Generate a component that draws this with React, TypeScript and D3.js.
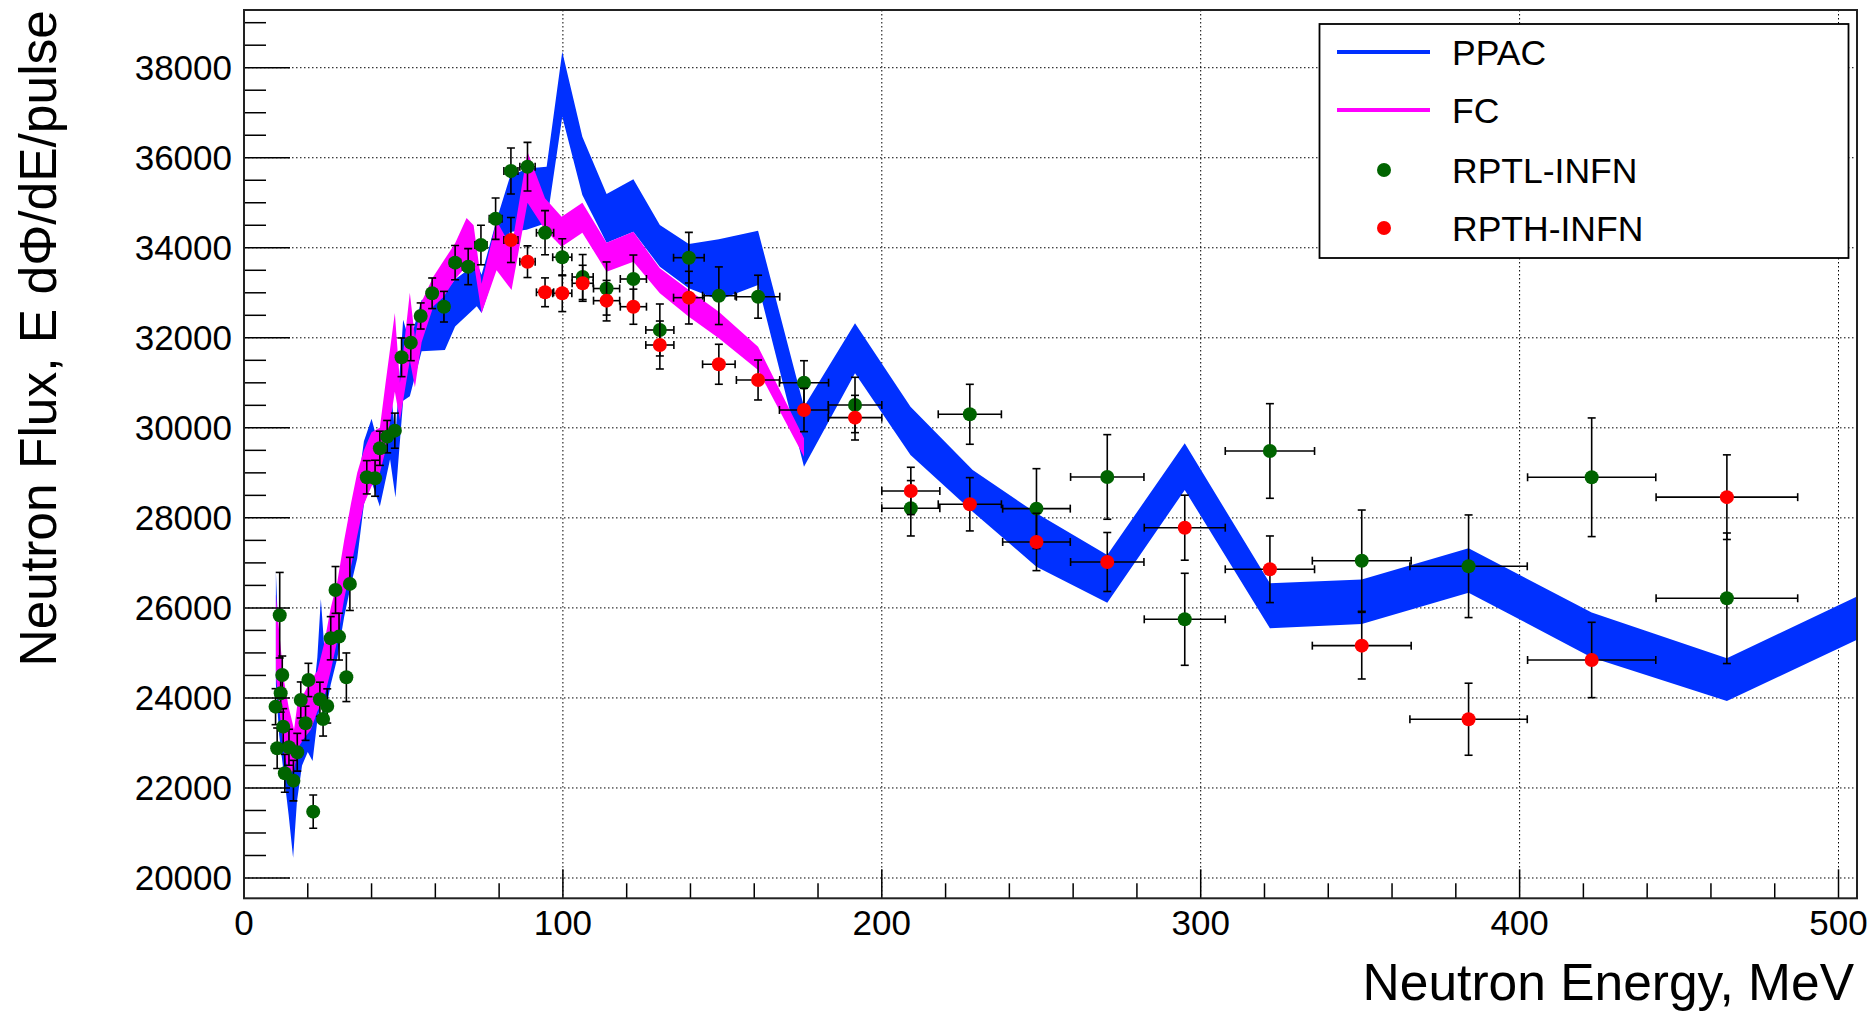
import React from "react";
import * as d3 from "d3";

// ---------- data ----------
const ppacE = [10.0, 11.0, 12.5, 14.0, 15.4, 16.6, 18.2, 20.0, 21.5, 23.0, 24.1, 25.3, 27.2, 29.3, 31.4, 33.5, 35.5, 37.6, 40.0, 42.6, 45.8, 47.5, 49.9, 52.0, 55.7, 63.0, 66.2, 73.0, 74.5, 79.2, 83.4, 88.6, 94.9, 99.8, 106.1, 113.7, 122.1, 130.4, 139.5, 148.9, 161.2, 175.6, 191.6, 209.0, 228.5, 248.5, 270.7, 295.0, 321.7, 350.5, 384.0, 422.6, 465.0, 512.0];
const ppacLo = [24300, 23200, 22300, 21400, 20450, 21700, 22500, 22800, 22600, 23500, 23900, 23600, 24300, 24900, 25800, 26500, 27100, 28300, 28800, 28250, 29300, 28450, 30600, 30700, 31700, 31730, 32250, 32700, 32550, 33580, 34350, 34400, 34550, 36912, 35172, 34113, 34357, 33580, 33100, 32840, 33173, 29137, 31211, 29397, 28138, 26916, 26116, 28620, 25547, 25640, 26339, 24900, 23933, 25500];
const ppacHi = [26800, 25000, 24300, 23300, 22600, 23500, 24000, 24100, 23900, 24900, 26200, 25000, 25800, 26300, 27300, 28000, 28600, 29700, 30200, 29500, 31000, 29800, 32400, 31900, 32840, 33000, 33300, 33650, 33400, 34617, 35580, 35760, 35800, 38355, 36468, 35194, 35521, 34506, 34084, 34188, 34380, 30470, 32322, 30470, 29064, 28102, 27176, 29657, 26547, 26630, 27325, 25900, 24881, 26460];

const fcE = [10.0, 11.0, 12.5, 14.0, 15.7, 17.0, 18.8, 21.0, 23.0, 25.1, 27.2, 29.3, 31.4, 33.5, 35.5, 37.6, 40.0, 42.6, 44.4, 47.3, 48.9, 52.0, 53.6, 55.7, 59.4, 62.5, 66.2, 69.8, 72.0, 74.5, 79.2, 83.9, 88.9, 94.4, 99.6, 106.1, 113.7, 122.1, 130.4, 139.5, 148.9, 161.2, 175.6];
const fcLo = [24500, 23800, 22800, 22300, 22400, 22900, 23100, 23300, 23700, 24000, 24600, 25300, 26200, 26900, 27600, 28300, 28700, 29000, 29500, 30800, 30170, 31500, 30900, 31900, 32700, 32900, 33300, 33600, 33700, 32544, 33500, 33062, 35000, 34400, 34024, 34335, 33469, 33691, 32989, 32470, 31989, 31285, 29360];
const fcHi = [26300, 25500, 24400, 23800, 23300, 24000, 24100, 24400, 24600, 25200, 26000, 26600, 27500, 28300, 29000, 29500, 29900, 30000, 31000, 32550, 31000, 33000, 32000, 32800, 33360, 33700, 34100, 34660, 34500, 33200, 34600, 34000, 36135, 35100, 34690, 35001, 34113, 34357, 33543, 33062, 32580, 31803, 29768];

const rptlE = [9.9, 10.4, 11.2, 11.5, 12.0, 12.3, 12.8, 14.1, 15.5, 16.7, 17.8, 19.3, 20.2, 21.7, 23.8, 24.8, 26.1, 27.2, 28.7, 29.8, 32.1, 33.2, 38.5, 41.1, 42.6, 44.9, 47.3, 49.4, 52.3, 55.4, 59.0, 62.7, 66.2, 70.3, 74.3, 78.9, 83.7, 88.9, 94.4, 99.8, 106.2, 113.7, 122.1, 130.4, 139.5, 148.9, 161.2, 175.6, 191.6, 209.1, 227.6, 248.5, 270.7, 295.0, 321.7, 350.5, 384.0, 422.6, 465.0];
const rptlY = [23806, 22882, 25838, 24104, 24511, 23362, 22326, 22904, 22163, 22793, 23955, 23437, 24399, 21474, 23970, 23533, 23822, 25326, 26399, 25362, 24459, 26533, 28902, 28880, 29546, 29804, 29937, 31567, 31892, 32485, 32989, 32691, 33669, 33580, 34062, 34646, 35705, 35801, 34335, 33790, 33350, 33095, 33306, 32174, 33780, 32935, 32913, 31003, 30508, 28213, 30301, 28205, 28909, 25747, 29486, 27049, 26925, 28902, 26214];
const rptlEy = [400, 450, 950, 420, 420, 400, 420, 400, 450, 420, 400, 380, 370, 370, 380, 380, 380, 480, 520, 520, 540, 590, 370, 400, 380, 360, 390, 430, 400, 290, 340, 340, 380, 400, 440, 460, 510, 540, 490, 410, 500, 590, 533, 577, 562, 640, 477, 488, 615, 615, 666, 888, 940, 1022, 1051, 1125, 1140, 1318, 1450];
const rptlEx = [0.3, 0.3, 0.3, 0.3, 0.3, 0.3, 0.3, 0.4, 0.4, 0.4, 0.5, 0.5, 0.5, 0.6, 0.6, 0.6, 0.7, 0.7, 0.7, 0.8, 0.8, 0.9, 1.0, 1.1, 1.1, 1.2, 1.2, 1.3, 1.4, 1.4, 1.5, 1.6, 1.7, 1.8, 1.9, 2.0, 2.2, 2.4, 2.7, 3.0, 3.3, 4.1, 4.1, 4.4, 4.8, 5.1, 6.8, 7.7, 8.4, 9.1, 9.9, 10.6, 11.5, 12.7, 14.0, 15.5, 18.4, 20.1, 22.2];

const rpthE = [83.7, 88.9, 94.4, 99.8, 106.2, 113.7, 122.1, 130.4, 139.5, 148.9, 161.2, 175.6, 191.6, 209.1, 227.6, 248.5, 270.7, 295.0, 321.7, 350.5, 384.0, 422.6, 465.0];
const rpthY = [34173, 33691, 33011, 32989, 33211, 32825, 32691, 31840, 32892, 31412, 31063, 30397, 30226, 28598, 28302, 27465, 27020, 27782, 26858, 25161, 23527, 24843, 28460];
const rpthEy = [500, 352, 320, 407, 400, 450, 390, 533, 585, 444, 444, 481, 496, 526, 592, 637, 655, 722, 740, 740, 800, 837, 940];
const rpthEx = [2.2, 2.4, 2.7, 3.0, 3.3, 4.1, 4.1, 4.4, 4.8, 5.1, 6.8, 7.7, 8.4, 9.1, 9.9, 10.6, 11.5, 12.7, 14.0, 15.5, 18.4, 20.1, 22.2];

const yTickValues = [20000, 22000, 24000, 26000, 28000, 30000, 32000, 34000, 36000, 38000];
const xTickValues = [0, 100, 200, 300, 400, 500];

const legendLabels = ["PPAC", "FC", "RPTL-INFN", "RPTH-INFN"];

// ---------- layout ----------
const W = 1872;
const H = 1011;
const L = 244, R = 1857, T = 10, B = 898.3;
const BLUE = "#0030ff";
const MAGENTA = "#ff00ff";
const GREEN = "#006400";
const RED = "#ff0000";
const FONT = "'Liberation Sans', Arial, Helvetica, sans-serif";

const x = d3.scaleLinear().domain([0, 505.8]).range([L, R]);
const y = d3.scaleLinear().domain([19549, 39282]).range([B, T]);

function band(E: number[], lo: number[], hi: number[]) {
  const pts = E.map((e, i) => ({ e, lo: lo[i], hi: hi[i] }));
  return d3
    .area<{ e: number; lo: number; hi: number }>()
    .x((d) => x(d.e))
    .y0((d) => y(d.lo))
    .y1((d) => y(d.hi))
    .curve(d3.curveLinear)(pts) as string;
}

function Points({ E, V, ey, ex, color }: { E: number[]; V: number[]; ey: number[]; ex: number[]; color: string }) {
  const cap = 4;
  return (
    <g>
      {E.map((e, i) => {
        const cx = x(e), cy = y(V[i]);
        const y1 = y(V[i] + ey[i]), y2 = y(V[i] - ey[i]);
        const x1 = x(e - ex[i]), x2 = x(e + ex[i]);
        return (
          <g key={i} stroke="#000" strokeWidth={1.6}>
            <line x1={cx} x2={cx} y1={y1} y2={y2} />
            <line x1={cx - cap} x2={cx + cap} y1={y1} y2={y1} />
            <line x1={cx - cap} x2={cx + cap} y1={y2} y2={y2} />
            <line x1={x1} x2={x2} y1={cy} y2={cy} />
            <line x1={x1} x2={x1} y1={cy - cap} y2={cy + cap} />
            <line x1={x2} x2={x2} y1={cy - cap} y2={cy + cap} />
          </g>
        );
      })}
      {E.map((e, i) => (
        <circle key={"m" + i} cx={x(e)} cy={y(V[i])} r={7} fill={color} />
      ))}
    </g>
  );
}

export default function App() {
  const yMinor = d3.range(20000, 39282, 500).filter((v) => v % 2000 !== 0);
  const xMinor = d3.range(0, 505.8, 20).filter((v) => v % 100 !== 0);
  const legendRows = [52, 110, 170, 228];
  return (
    <div style={{ position: "absolute", left: 0, top: 0, width: W, height: H, background: "#fff" }}>
      <svg width={W} height={H} viewBox={`0 0 ${W} ${H}`} style={{ display: "block" }}>
        <defs>
          <clipPath id="frame">
            <rect x={L} y={T} width={R - L} height={B - T} />
          </clipPath>
        </defs>
        <rect x={0} y={0} width={W} height={H} fill="#fff" />

        {/* grid */}
        <g stroke="#000" strokeWidth={1} strokeDasharray="1.5,2.5">
          {yTickValues.map((v) => (
            <line key={"gy" + v} x1={L} x2={R} y1={y(v)} y2={y(v)} />
          ))}
          {xTickValues.filter((v) => v > 0).map((v) => (
            <line key={"gx" + v} x1={x(v)} x2={x(v)} y1={T} y2={B} />
          ))}
        </g>

        {/* bands */}
        <g clipPath="url(#frame)">
          <path d={band(ppacE, ppacLo, ppacHi)} fill={BLUE} />
          <path d={band(fcE, fcLo, fcHi)} fill={MAGENTA} />
        </g>

        {/* data points */}
        <g clipPath="url(#frame)">
          <Points E={rptlE} V={rptlY} ey={rptlEy} ex={rptlEx} color={GREEN} />
          <Points E={rpthE} V={rpthY} ey={rpthEy} ex={rpthEx} color={RED} />
        </g>

        {/* ticks */}
        <g stroke="#000" strokeWidth={1.5}>
          {yTickValues.map((v) => (
            <line key={"ty" + v} x1={L} x2={L + 46} y1={y(v)} y2={y(v)} />
          ))}
          {yMinor.map((v) => (
            <line key={"tym" + v} x1={L} x2={L + 22} y1={y(v)} y2={y(v)} />
          ))}
          {xTickValues.map((v) => (
            <line key={"tx" + v} x1={x(v)} x2={x(v)} y1={B} y2={B - 29} />
          ))}
          {xMinor.map((v) => (
            <line key={"txm" + v} x1={x(v)} x2={x(v)} y1={B} y2={B - 15} />
          ))}
        </g>

        {/* frame */}
        <rect x={L} y={T} width={R - L} height={B - T} fill="none" stroke="#222" strokeWidth={2} />

        {/* tick labels */}
        <g fontFamily={FONT} fontSize={35} fill="#000">
          {yTickValues.map((v) => (
            <text key={"ly" + v} x={232} y={y(v) + 12.5} textAnchor="end">
              {v}
            </text>
          ))}
          {xTickValues.map((v) => (
            <text key={"lx" + v} x={x(v)} y={935} textAnchor="middle">
              {v}
            </text>
          ))}
        </g>

        {/* axis titles */}
        <text x={1854} y={1000} textAnchor="end" fontFamily={FONT} fontSize={51.5} fill="#000">
          Neutron Energy, MeV
        </text>
        <text
          transform="translate(56,10) rotate(-90)"
          textAnchor="end"
          fontFamily={FONT}
          fontSize={51.5}
          fill="#000"
        >
          Neutron Flux, E dΦ/dE/pulse
        </text>

        {/* legend */}
        <g>
          <rect x={1319.5} y={24} width={529} height={234} fill="#fff" stroke="#000" strokeWidth={1.8} />
          <line x1={1337} x2={1430} y1={legendRows[0]} y2={legendRows[0]} stroke={BLUE} strokeWidth={4} />
          <line x1={1337} x2={1430} y1={legendRows[1]} y2={legendRows[1]} stroke={MAGENTA} strokeWidth={4} />
          <circle cx={1384} cy={legendRows[2]} r={7} fill={GREEN} />
          <circle cx={1384} cy={legendRows[3]} r={7} fill={RED} />
          {legendLabels.map((t, i) => (
            <text key={t} x={1452} y={legendRows[i] + 13} fontFamily={FONT} fontSize={35.5} fill="#000">
              {t}
            </text>
          ))}
        </g>
      </svg>
    </div>
  );
}
